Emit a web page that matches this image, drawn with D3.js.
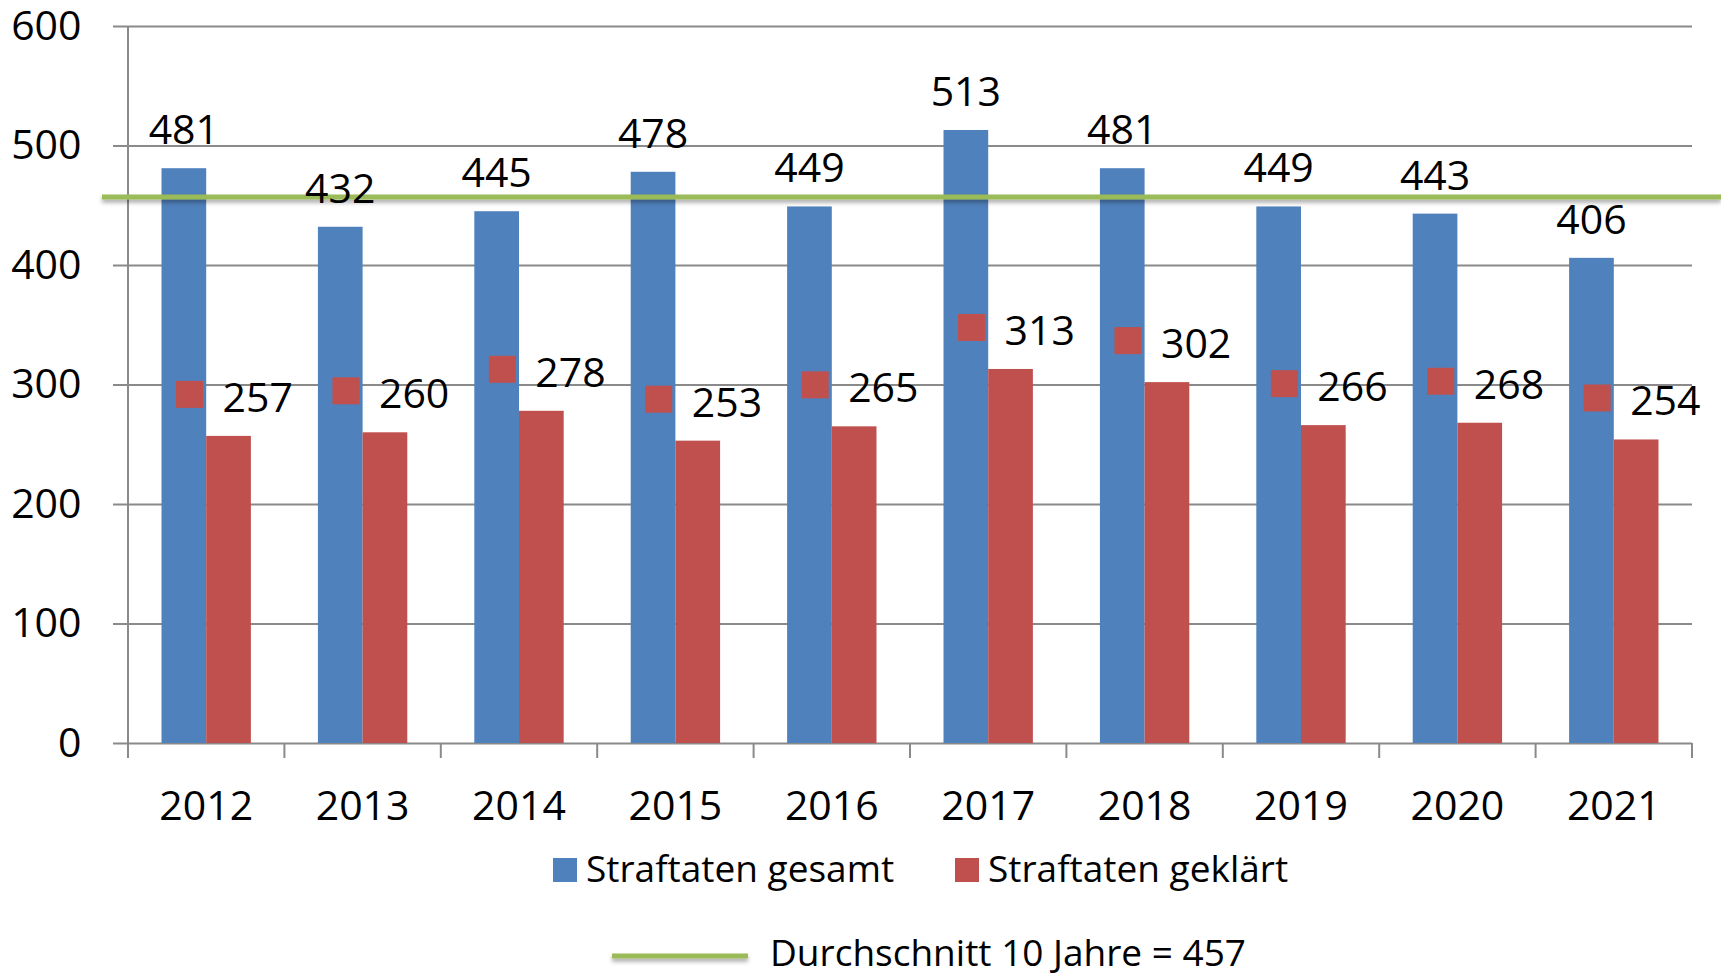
<!DOCTYPE html>
<html>
<head>
<meta charset="utf-8">
<script src="https://cdn.jsdelivr.net/npm/d3@7"></script>
<style>
  html, body { margin: 0; padding: 0; background: #fff; }
  svg { display: block; font-family: "Open Sans", sans-serif; }
</style>
</head>
<body>
<div id="chart"></div>
<script>
var years = ["2012", "2013", "2014", "2015", "2016", "2017", "2018", "2019", "2020", "2021"];
var gesamt = [481, 432, 445, 478, 449, 513, 481, 449, 443, 406];
var geklaert = [257, 260, 278, 253, 265, 313, 302, 266, 268, 254];
var average = 457;
var yTicks = [0, 100, 200, 300, 400, 500, 600];
var seriesNames = ["Straftaten gesamt", "Straftaten geklärt"];
var avgLabel = "Durchschnitt 10 Jahre = " + average;

var width = 1721, height = 977;
var blue = "#4F81BD", red = "#C0504D", green = "#9BBB59", grid = "#8a8a8a";

var svg = d3.select("#chart").append("svg")
  .attr("width", width)
  .attr("height", height);

// shadow for the green lines (user space, a flat line has no bbox height)
svg.append("defs").append("filter")
    .attr("id", "shadow")
    .attr("filterUnits", "userSpaceOnUse")
    .attr("x", 0).attr("y", 0)
    .attr("width", width).attr("height", height)
  .append("feDropShadow")
    .attr("dx", 0).attr("dy", 3)
    .attr("stdDeviation", 2)
    .attr("flood-color", "#000")
    .attr("flood-opacity", 0.35);

var x = d3.scaleBand()
  .domain(years)
  .range([128, 1692]);

var xs = d3.scaleBand()
  .domain(["gesamt", "geklaert"])
  .range([0, x.bandwidth()])
  .paddingOuter(0.75);

var y = d3.scaleLinear()
  .domain([0, 600])
  .range([743, 26]);

// gridlines + y labels
var yAxis = svg.append("g")
  .attr("transform", "translate(113,0)")
  .call(d3.axisLeft(y)
    .tickValues(yTicks)
    .tickSize(-(1692 - 113))
    .tickPadding(31.5));
yAxis.select(".domain").remove();
yAxis.selectAll(".tick line")
  .attr("stroke", grid)
  .attr("stroke-width", 2);
yAxis.selectAll("text")
  .attr("fill", "#000")
  .style("font-size", "41px")
  .style("font-family", "Open Sans");

// vertical axis line
svg.append("line")
  .attr("x1", 128).attr("x2", 128)
  .attr("y1", y(600)).attr("y2", y(0) + 15)
  .attr("stroke", grid)
  .attr("stroke-width", 2);

// category tick marks at band boundaries
var boundaries = years.map(function(d) { return x(d); }).concat([x.range()[1]]);
svg.selectAll(".xtick")
  .data(boundaries)
  .enter().append("line")
    .attr("class", "xtick")
    .attr("x1", function(d) { return d; })
    .attr("x2", function(d) { return d; })
    .attr("y1", y(0))
    .attr("y2", y(0) + 15)
    .attr("stroke", grid)
    .attr("stroke-width", 2);

// x labels
var xAxis = svg.append("g")
  .attr("transform", "translate(0," + y(0) + ")")
  .call(d3.axisBottom(x).tickSize(0).tickPadding(48));
xAxis.select(".domain").remove();
xAxis.selectAll("text")
  .attr("fill", "#000")
  .style("font-size", "41px")
  .style("font-family", "Open Sans");

// bars
var rows = years.map(function(d, i) {
  return { year: d, gesamt: gesamt[i], geklaert: geklaert[i] };
});

svg.selectAll(".bar-g")
  .data(rows)
  .enter().append("rect")
    .attr("class", "bar-g")
    .attr("x", function(d) { return x(d.year) + xs("gesamt"); })
    .attr("width", xs.bandwidth())
    .attr("y", function(d) { return y(d.gesamt); })
    .attr("height", function(d) { return y(0) - y(d.gesamt); })
    .attr("fill", blue);

svg.selectAll(".bar-k")
  .data(rows)
  .enter().append("rect")
    .attr("class", "bar-k")
    .attr("x", function(d) { return x(d.year) + xs("geklaert"); })
    .attr("width", xs.bandwidth())
    .attr("y", function(d) { return y(d.geklaert); })
    .attr("height", function(d) { return y(0) - y(d.geklaert); })
    .attr("fill", red);

// average line (drawn on top of bars)
svg.append("line")
  .attr("x1", 102).attr("x2", width)
  .attr("y1", y(average)).attr("y2", y(average))
  .attr("stroke", green)
  .attr("stroke-width", 5)
  .attr("filter", "url(#shadow)");

// labels for blue bars
svg.selectAll(".lab-g")
  .data(rows)
  .enter().append("text")
    .attr("class", "lab-g")
    .attr("x", function(d) { return x(d.year) + xs("gesamt") + xs.bandwidth() / 2; })
    .attr("y", function(d) { return y(d.gesamt) - 24; })
    .attr("text-anchor", "middle")
    .style("font-size", "41px")
    .text(function(d) { return d.gesamt; });

// labels for red bars, with legend key
var redLab = svg.selectAll(".lab-k")
  .data(rows)
  .enter().append("g")
    .attr("class", "lab-k")
    .attr("transform", function(d) {
      var cx = x(d.year) + xs("geklaert") + xs.bandwidth() / 2;
      return "translate(" + cx + "," + y(d.geklaert) + ")";
    });

redLab.append("rect")
  .attr("x", -52.5)
  .attr("y", -55)
  .attr("width", 27)
  .attr("height", 27)
  .attr("fill", red);

redLab.append("text")
  .attr("x", -6)
  .attr("y", -24)
  .style("font-size", "41px")
  .text(function(d) { return d.geklaert; });

// legend
var legend = svg.append("g").attr("class", "legend");
var legendX = [553, 955];
var legendColors = [blue, red];

var items = legend.selectAll(".item")
  .data(seriesNames)
  .enter().append("g")
    .attr("class", "item")
    .attr("transform", function(d, i) { return "translate(" + legendX[i] + ",858)"; });

items.append("rect")
  .attr("width", 24)
  .attr("height", 24)
  .attr("fill", function(d, i) { return legendColors[i]; });

items.append("text")
  .attr("x", 33)
  .attr("y", 24)
  .style("font-size", "37px")
  .text(function(d) { return d; });

legend.append("line")
  .attr("x1", 612).attr("x2", 748)
  .attr("y1", 956).attr("y2", 956)
  .attr("stroke", green)
  .attr("stroke-width", 5)
  .attr("filter", "url(#shadow)");

legend.append("text")
  .attr("x", 770)
  .attr("y", 966)
  .style("font-size", "37px")
  .text(avgLabel);
</script>
</body>
</html>
